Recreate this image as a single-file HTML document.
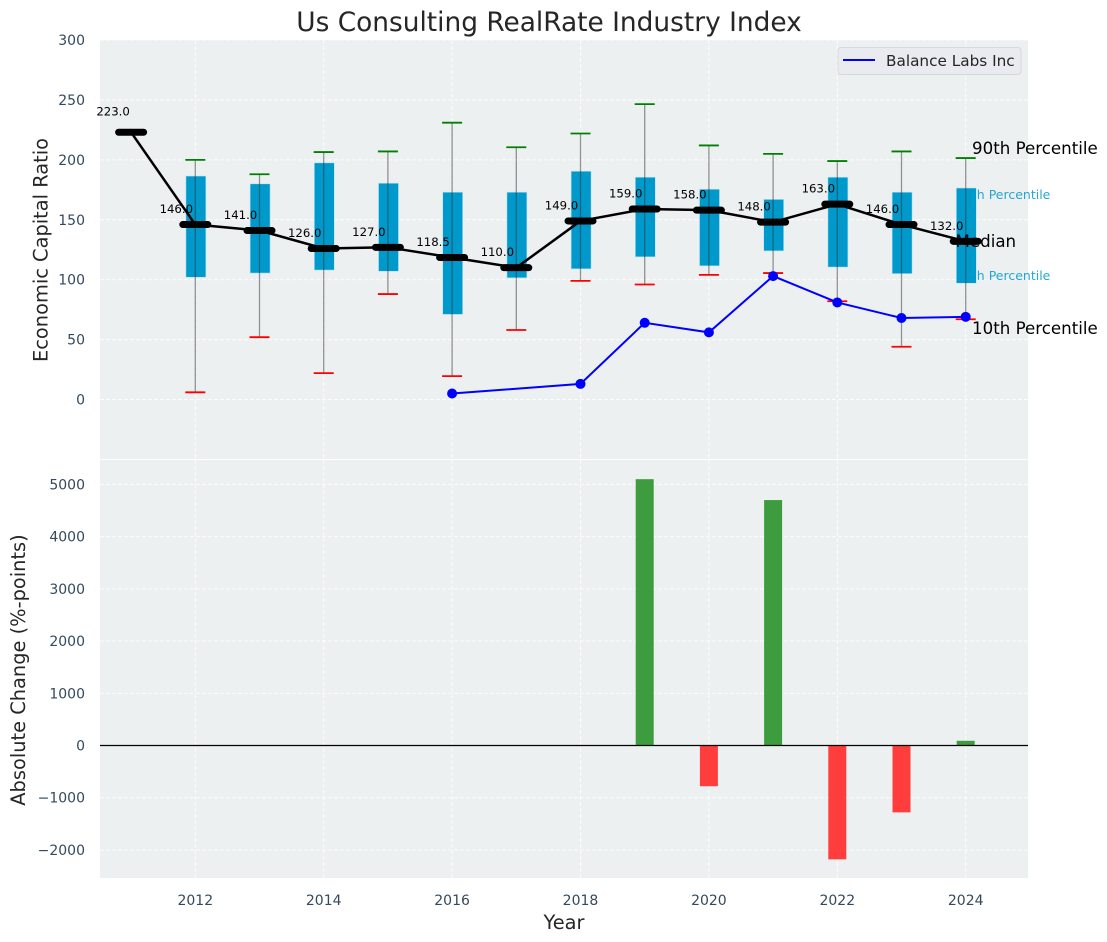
<!DOCTYPE html>
<html>
<head>
<meta charset="utf-8">
<title>Us Consulting RealRate Industry Index</title>
<style>
html,body{margin:0;padding:0;background:#fff;}
svg{display:block;font-family:"DejaVu Sans","Liberation Sans",sans-serif;}
</style>
</head>
<body>
<svg id="chart" xmlns="http://www.w3.org/2000/svg" width="1107" height="942" viewBox="0 0 1107 942"></svg>
<script>
const years = [2012,2013,2014,2015,2016,2017,2018,2019,2020,2021,2022,2023,2024];
const p90 = [200,188,206.5,207,231,210.5,222,246.5,212,205,199,207,201.5];
const p75 = [186.5,180,197.5,180.5,173,173,190.5,185.5,175.5,167,185.5,173,176.5];
const p25 = [102,105.5,108,107,71,101.5,109,119,111.5,124,110.5,105,97];
const p10 = [6,52,22,88,19.5,58,99,96,104,105.5,82,44,67];
const medianYears = [2011,2012,2013,2014,2015,2016,2017,2018,2019,2020,2021,2022,2023,2024];
const medianValues = [223,146,141,126,127,118.5,110,149,159,158,148,163,146,132];
const companyYears = [2016,2018,2019,2020,2021,2022,2023,2024];
const companyValues = [5,13,64,56,103,81,68,69];
const changeYears = [2019,2020,2021,2022,2023,2024];
const changeValues = [5100,-780,4700,-2180,-1280,90];
const upperTicks = [0,50,100,150,200,250,300];
const lowerTicks = [-2000,-1000,0,1000,2000,3000,4000,5000];
const xTicks = [2012,2014,2016,2018,2020,2022,2024];

const NS = 'http://www.w3.org/2000/svg';
const svg = document.getElementById('chart');
const L = 100, R = 1028, UT = 40, UB = 459, LT = 460, LB = 878;
function x(v){ return 195.3 + (v - 2012) * 64.2; }
function yU(v){ return 399.5 - v * 1.1983; }
function yL(v){ return 745.5 - v * 0.05222; }
function mk(tag, attrs, text){
  const e = document.createElementNS(NS, tag);
  for (const k in attrs) e.setAttribute(k, attrs[k]);
  if (text !== undefined) e.textContent = text;
  svg.appendChild(e);
  return e;
}
function fmt(v){ return v < 0 ? '\u2212' + Math.abs(v) : String(v); }

let el;
el = mk('text',{x:549,y:31,'font-size':26.4,'text-anchor':'middle',fill:'#262626'},'Us Consulting RealRate Industry Index');



el = mk('rect',{x:L,y:UT,width:R-L,height:UB-UT,fill:'#ecf0f1'});


el = mk('rect',{x:L,y:LT,width:R-L,height:LB-LT,fill:'#ecf0f1'});



xTicks.forEach(t => {
  el = mk('line',{x1:x(t),x2:x(t),y1:UT,y2:UB,stroke:'#fff','stroke-width':1,'stroke-dasharray':'4 2',opacity:.85});
  
  
  el = mk('line',{x1:x(t),x2:x(t),y1:LT,y2:LB,stroke:'#fff','stroke-width':1,'stroke-dasharray':'4 2',opacity:.85});
  
  
  el = mk('text',{x:x(t),y:905,'font-size':14,'text-anchor':'middle',fill:'#34495e'},String(t));
  
  
});
upperTicks.forEach(t => {
  el = mk('line',{x1:L,x2:R,y1:yU(t),y2:yU(t),stroke:'#fff','stroke-width':1,'stroke-dasharray':'4 2',opacity:.85});
  
  
  el = mk('text',{x:85,y:yU(t)+5,'font-size':14,'text-anchor':'end',fill:'#34495e'},String(t));
  
  
});
lowerTicks.forEach(t => {
  el = mk('line',{x1:L,x2:R,y1:yL(t),y2:yL(t),stroke:'#fff','stroke-width':1,'stroke-dasharray':'4 2',opacity:.85});
  
  
  el = mk('text',{x:85,y:yL(t)+5,'font-size':14,'text-anchor':'end',fill:'#34495e'},fmt(t));
  
  
});

el = mk('text',{x:47.5,y:250,'font-size':19.4,'text-anchor':'middle',fill:'#262626',transform:'rotate(-90 47.5 250)'},'Economic Capital Ratio');


el = mk('text',{x:25,y:670,'font-size':19.4,'text-anchor':'middle',fill:'#262626',transform:'rotate(-90 25 670)'},'Absolute Change (%-points)');


el = mk('text',{x:564,y:929,'font-size':19.4,'text-anchor':'middle',fill:'#262626'},'Year');



el = mk('text',{x:956,y:199,'font-size':12.5,fill:'#0099cc',opacity:.85},'75th Percentile');


el = mk('text',{x:956,y:280,'font-size':12.5,fill:'#0099cc',opacity:.85},'25th Percentile');



years.forEach((yr,i) => {
  const cx = x(yr);
  el = mk('rect',{x:cx-9.4,y:yU(p75[i]),width:20,height:yU(p25[i])-yU(p75[i]),fill:'#0099cc','stroke':'#bfe3f0','stroke-width':.6});
  
  
  el = mk('line',{x1:cx,x2:cx,y1:yU(p90[i]),y2:yU(p10[i]),stroke:'#333','stroke-width':1.3,opacity:.5});
  
  
  el = mk('line',{x1:cx-10,x2:cx+10,y1:yU(p90[i]),y2:yU(p90[i]),stroke:'#008000','stroke-width':1.8});
  
  
  el = mk('line',{x1:cx-10,x2:cx+10,y1:yU(p10[i]),y2:yU(p10[i]),stroke:'#ff0000','stroke-width':1.8});
  
  
});

el = mk('polyline',{points:companyYears.map((y0,i)=>x(y0)+','+yU(companyValues[i])).join(' '),fill:'none',stroke:'#0000ff','stroke-width':2});


companyYears.forEach((y0,i) => {
  el = mk('circle',{cx:x(y0),cy:yU(companyValues[i]),r:5,fill:'#0000ff'});
  
  
});

el = mk('text',{x:972,y:154,'font-size':16.67,fill:'#000'},'90th Percentile');


el = mk('text',{x:955.5,y:247,'font-size':16.67,fill:'#000'},'Median');


el = mk('text',{x:972,y:334,'font-size':16.67,fill:'#000'},'10th Percentile');



el = mk('polyline',{points:medianYears.map((y0,i)=>x(y0)+','+yU(medianValues[i])).join(' '),fill:'none',stroke:'#000','stroke-width':2.5});


medianYears.forEach((y0,i) => {
  const cx = x(y0), cy = yU(medianValues[i]);
  el = mk('line',{x1:cx-12.5,x2:cx+12.5,y1:cy,y2:cy,stroke:'#000','stroke-width':7,'stroke-linecap':'round'});
  
  
  const first = i === 0;
  el = mk('text',{x:first ? cx-18 : cx-19,y:first ? cy-17 : cy-11.5,'font-size':11.7,'text-anchor':'middle',fill:'#000'},medianValues[i].toFixed(1));
  
  
});

changeYears.forEach((y0,i) => {
  const v = changeValues[i];
  const top = Math.min(yL(v), yL(0));
  const h = Math.abs(yL(v) - yL(0));
  el = mk('rect',{x:x(y0)-9,y:top,width:18,height:h,fill:v >= 0 ? '#3d9c3d' : '#ff3d3d'});
  
  
});
el = mk('line',{x1:L,x2:R,y1:yL(0),y2:yL(0),stroke:'#000','stroke-width':1.2});



el = mk('rect',{x:838,y:47.5,width:183,height:27,rx:3,fill:'#e9ebf0',stroke:'#d5d8dc','stroke-width':1});


el = mk('line',{x1:843,x2:875,y1:60,y2:60,stroke:'#0000ff','stroke-width':2});


el = mk('text',{x:886,y:66,'font-size':15.28,fill:'#262626'},'Balance Labs Inc');


</script>
</body>
</html>
